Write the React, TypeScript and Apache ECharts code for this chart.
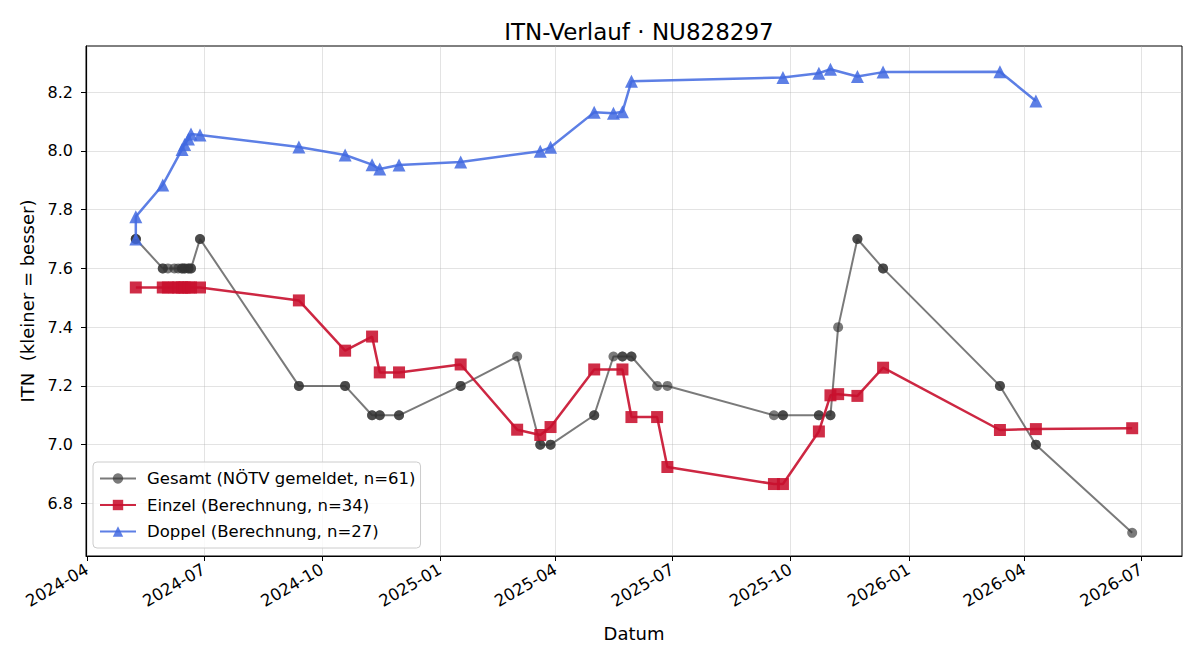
import { useEffect, useRef } from 'react';
import * as echarts from 'echarts';

// Einzel (singles) ITN computed per match
const einzelDates = [
  '2024-05-09', '2024-05-30', '2024-06-03', '2024-06-08', '2024-06-11', '2024-06-14',
  '2024-06-16', '2024-06-19', '2024-06-21', '2024-06-28', '2024-09-13', '2024-10-19',
  '2024-11-09', '2024-11-15', '2024-11-30', '2025-01-17', '2025-03-02', '2025-03-20',
  '2025-03-28', '2025-05-01', '2025-05-23', '2025-05-30', '2025-06-19', '2025-06-27',
  '2025-09-18', '2025-09-25', '2025-10-23', '2025-11-01', '2025-11-07', '2025-11-22',
  '2025-12-12', '2026-03-13', '2026-04-10', '2026-06-24',
];
const einzelValues = [
  7.535, 7.535, 7.535, 7.535, 7.535, 7.535,
  7.535, 7.535, 7.535, 7.535, 7.491, 7.32,
  7.368, 7.246, 7.246, 7.273, 7.051, 7.033,
  7.06, 7.256, 7.256, 7.094, 7.094, 6.924,
  6.866, 6.866, 7.045, 7.168, 7.172, 7.166,
  7.262, 7.05, 7.053, 7.056,
];

// Doppel (doubles) ITN computed per match
const doppelDates = [
  '2024-05-09', '2024-05-09', '2024-05-30', '2024-06-14', '2024-06-16', '2024-06-19',
  '2024-06-21', '2024-06-28', '2024-09-13', '2024-10-19', '2024-11-09', '2024-11-15',
  '2024-11-30', '2025-01-17', '2025-03-20', '2025-03-28', '2025-05-01', '2025-05-16',
  '2025-05-23', '2025-05-30', '2025-09-25', '2025-10-23', '2025-11-01', '2025-11-22',
  '2025-12-12', '2026-03-13', '2026-04-10',
];
const doppelValues = [
  7.7, 7.776, 7.884, 8.005, 8.022, 8.04,
  8.057, 8.054, 8.013, 7.986, 7.953, 7.938,
  7.952, 7.962, 7.999, 8.012, 8.131, 8.128,
  8.133, 8.237, 8.25, 8.264, 8.278, 8.253,
  8.268, 8.269, 8.17,
];

// Officially reported overall ITN on each match day
const gesamtDates = [
  '2024-05-09', '2024-05-30', '2024-06-03', '2024-06-08', '2024-06-11', '2024-06-14',
  '2024-06-16', '2024-06-19', '2024-06-21', '2024-06-28', '2024-09-13', '2024-10-19',
  '2024-11-09', '2024-11-15', '2024-11-30', '2025-01-17', '2025-03-02', '2025-03-20',
  '2025-03-28', '2025-05-01', '2025-05-16', '2025-05-23', '2025-05-30', '2025-06-19',
  '2025-06-27', '2025-09-18', '2025-09-25', '2025-10-23', '2025-11-01', '2025-11-07',
  '2025-11-22', '2025-12-12', '2026-03-13', '2026-04-10', '2026-06-24',
];
const gesamtValues = [
  7.7, 7.6, 7.6, 7.6, 7.6, 7.6,
  7.6, 7.6, 7.6, 7.7, 7.2, 7.2,
  7.1, 7.1, 7.1, 7.2, 7.3, 7.0,
  7.0, 7.1, 7.3, 7.3, 7.3, 7.2,
  7.2, 7.1, 7.1, 7.1, 7.1, 7.4,
  7.7, 7.6, 7.2, 7.0, 6.7,
];

const xTickLabels = [
  '2024-04', '2024-07', '2024-10', '2025-01', '2025-04',
  '2025-07', '2025-10', '2026-01', '2026-04', '2026-07',
];
const yTickValues = [6.8, 7.0, 7.2, 7.4, 7.6, 7.8, 8.0, 8.2];

const FONT = 'DejaVu Sans';
const ts = (d: string) => Date.parse(d.length === 7 ? `${d}-01T00:00:00Z` : `${d}T00:00:00Z`);

export default function App() {
  const ref = useRef<HTMLDivElement>(null);

  useEffect(() => {
    if (!ref.current) return;
    const chart = echarts.init(ref.current, undefined, { renderer: 'svg' });

    const einzel = einzelDates.map((d, i) => [ts(d), einzelValues[i]]);
    const doppel = doppelDates.map((d, i) => [ts(d), doppelValues[i]]);
    // One overall value per match (singles and doubles together)
    const gesamt = [...einzelDates, ...doppelDates]
      .map((d) => ts(d))
      .sort((a, b) => a - b)
      .map((t) => [t, gesamtValues[gesamtDates.findIndex((g) => ts(g) === t)]]);

    const all = [...einzel, ...doppel, ...gesamt];
    const xs = all.map((p) => p[0]);
    const ys = all.map((p) => p[1]);
    const x0 = Math.min(...xs), x1 = Math.max(...xs);
    const y0 = Math.min(...ys), y1 = Math.max(...ys);
    const xPad = (x1 - x0) * 0.05, yPad = (y1 - y0) * 0.05;

    const xTicks = xTickLabels.map(ts);
    const fmtMonth = (v: number) => {
      const d = new Date(v);
      return `${d.getUTCFullYear()}-${String(d.getUTCMonth() + 1).padStart(2, '0')}`;
    };
    const gridLine = { show: true, lineStyle: { color: '#b0b0b0', opacity: 0.35, width: 1 } };

    chart.setOption({
      animation: false,
      backgroundColor: '#ffffff',
      title: {
        text: 'ITN-Verlauf · NU828297',
        left: 634,
        top: 15,
        textAlign: 'center',
        textStyle: { fontFamily: FONT, fontSize: 23, fontWeight: 'normal', color: '#000' },
      },
      grid: {
        left: 86, right: 18, top: 46, bottom: 104,
        show: true, borderColor: '#000', borderWidth: 1, backgroundColor: 'transparent',
      },
      legend: {
        orient: 'vertical',
        left: 93,
        top: 462,
        padding: [8, 5, 8, 6],
        itemWidth: 36,
        itemHeight: 13,
        itemGap: 9.5,
        backgroundColor: 'rgba(255,255,255,0.8)',
        borderColor: '#cccccc',
        borderWidth: 1,
        borderRadius: 4,
        textStyle: { fontFamily: FONT, fontSize: 16.5, color: '#000', padding: [0, 0, 0, 6] },
        data: [
          'Gesamt (NÖTV gemeldet, n=61)',
          'Einzel (Berechnung, n=34)',
          'Doppel (Berechnung, n=27)',
        ],
      },
      xAxis: {
        type: 'value',
        min: x0 - xPad,
        max: x1 + xPad,
        name: 'Datum',
        nameLocation: 'middle',
        nameGap: 68,
        nameTextStyle: { fontFamily: FONT, fontSize: 18, color: '#000' },
        axisLine: { show: true, onZero: false, lineStyle: { color: '#000' } },
        axisTick: { show: true, length: 5, lineStyle: { color: '#000' }, customValues: xTicks },
        axisLabel: {
          customValues: xTicks,
          rotate: 30,
          margin: 12,
          formatter: (v: number) => fmtMonth(v),
          fontFamily: FONT,
          fontSize: 16.5,
          color: '#000',
        },
        splitLine: gridLine,
      },
      yAxis: {
        type: 'value',
        min: y0 - yPad,
        max: y1 + yPad,
        name: 'ITN  (kleiner = besser)',
        nameLocation: 'middle',
        nameRotate: 90,
        nameGap: 47,
        nameTextStyle: { fontFamily: FONT, fontSize: 18, color: '#000' },
        axisLine: { show: true, lineStyle: { color: '#000' } },
        axisTick: { show: true, length: 5, lineStyle: { color: '#000' }, customValues: yTickValues },
        axisLabel: {
          customValues: yTickValues,
          margin: 13,
          formatter: (v: number) => v.toFixed(1),
          fontFamily: FONT,
          fontSize: 16,
          color: '#000',
        },
        splitLine: gridLine,
      },
      series: [
        {
          name: 'Gesamt (NÖTV gemeldet, n=61)',
          type: 'line',
          data: gesamt,
          symbol: 'circle',
          symbolSize: 10,
          showAllSymbol: true,
          lineStyle: { color: '#333333', width: 2, opacity: 0.65 },
          itemStyle: { color: '#333333', opacity: 0.65 },
          z: 2,
        },
        {
          name: 'Einzel (Berechnung, n=34)',
          type: 'line',
          data: einzel,
          symbol: 'rect',
          symbolSize: 12,
          showAllSymbol: true,
          lineStyle: { color: '#c8102e', width: 2.5, opacity: 0.9 },
          itemStyle: { color: '#c8102e', opacity: 0.88 },
          z: 3,
        },
        {
          name: 'Doppel (Berechnung, n=27)',
          type: 'line',
          data: doppel,
          symbol: 'triangle',
          symbolSize: 13,
          showAllSymbol: true,
          lineStyle: { color: '#4169e1', width: 2.5, opacity: 0.85 },
          itemStyle: { color: '#4169e1', opacity: 0.85 },
          z: 4,
        },
      ],
    });

    return () => chart.dispose();
  }, []);

  return (
    <div
      ref={ref}
      style={{ position: 'fixed', left: 0, top: 0, width: 1200, height: 660, background: '#fff' }}
    />
  );
}
